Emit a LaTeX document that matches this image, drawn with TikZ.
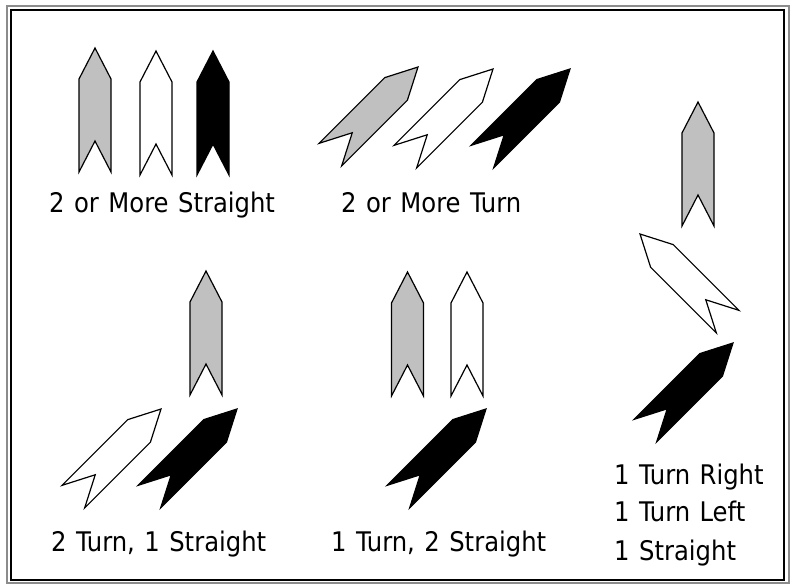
\documentclass[tikz,border=0pt]{standalone}
\usepackage{fontspec}
\setmainfont{DejaVu Sans Condensed}
\definecolor{chevgrey}{RGB}{192,192,192}
\definecolor{framegrey}{RGB}{140,140,140}
\newcommand\capfont{\fontsize{27}{32}\selectfont\spaceskip=9.5pt\relax}

\begin{document}
\begin{tikzpicture}[x=1pt,y=-1pt,line join=miter,
        chev/.pic={\path[pic actions] (0,0) -- (16,31) -- (16,124) -- (0,93) -- (-16,124) -- (-16,31) -- cycle;},
        grey chev/.style={draw=black,fill=chevgrey,line width=1.2pt},
        white chev/.style={draw=black,fill=white,line width=1.2pt},
        black chev/.style={draw=black,fill=black,line width=1.2pt},
        caption/.style={anchor=base west,inner sep=0pt,font=\capfont}]
        \useasboundingbox (0,0) rectangle (792,584);
        % double frame
        \draw[framegrey,line width=2pt] (6.5,6) rectangle (789,582.5);
        \draw[black,line width=2pt] (11,10) rectangle (783.5,579.5);
        % 2 or more straight
        \pic[grey chev] (s1) at (95,48) {chev};
        \pic[white chev] (s2) at (156,51) {chev};
        \pic[black chev] (s3) at (213,51) {chev};
        \node[caption] (straight) at (49,212) {2 or More Straight};
        % 2 or more turn
        \pic[grey chev,rotate=-45] (t1) at (418,67) {chev};
        \pic[white chev,rotate=-45] (t2) at (493,69) {chev};
        \pic[black chev,rotate=-45] (t3) at (570,69) {chev};
        \node[caption] (turn) at (341,212) {2 or More Turn};
        % 2 turn, 1 straight
        \pic[grey chev] (a1) at (206,271) {chev};
        \pic[white chev,rotate=-45] (a2) at (161,409) {chev};
        \pic[black chev,rotate=-45] (a3) at (237,409) {chev};
        \node[caption] (twoturn) at (51,551) {2 Turn, 1 Straight};
        % 1 turn, 2 straight
        \pic[grey chev] (b1) at (407.5,272) {chev};
        \pic[white chev] (b2) at (467,272) {chev};
        \pic[black chev,rotate=-45] (b3) at (486,409) {chev};
        \node[caption] (oneturn) at (331,551) {1 Turn, 2 Straight};
        % one of each
        \pic[grey chev] (c1) at (698,102) {chev};
        \pic[white chev,rotate=45] (c2) at (640,234) {chev};
        \pic[black chev,rotate=-45] (c3) at (733,343) {chev};
        \node[caption] (right) at (614,484) {1 Turn Right};
        \node[caption] (left) at (614,521) {1 Turn Left};
        \node[caption] (single) at (614,560) {1 Straight};
\end{tikzpicture}
\end{document}
